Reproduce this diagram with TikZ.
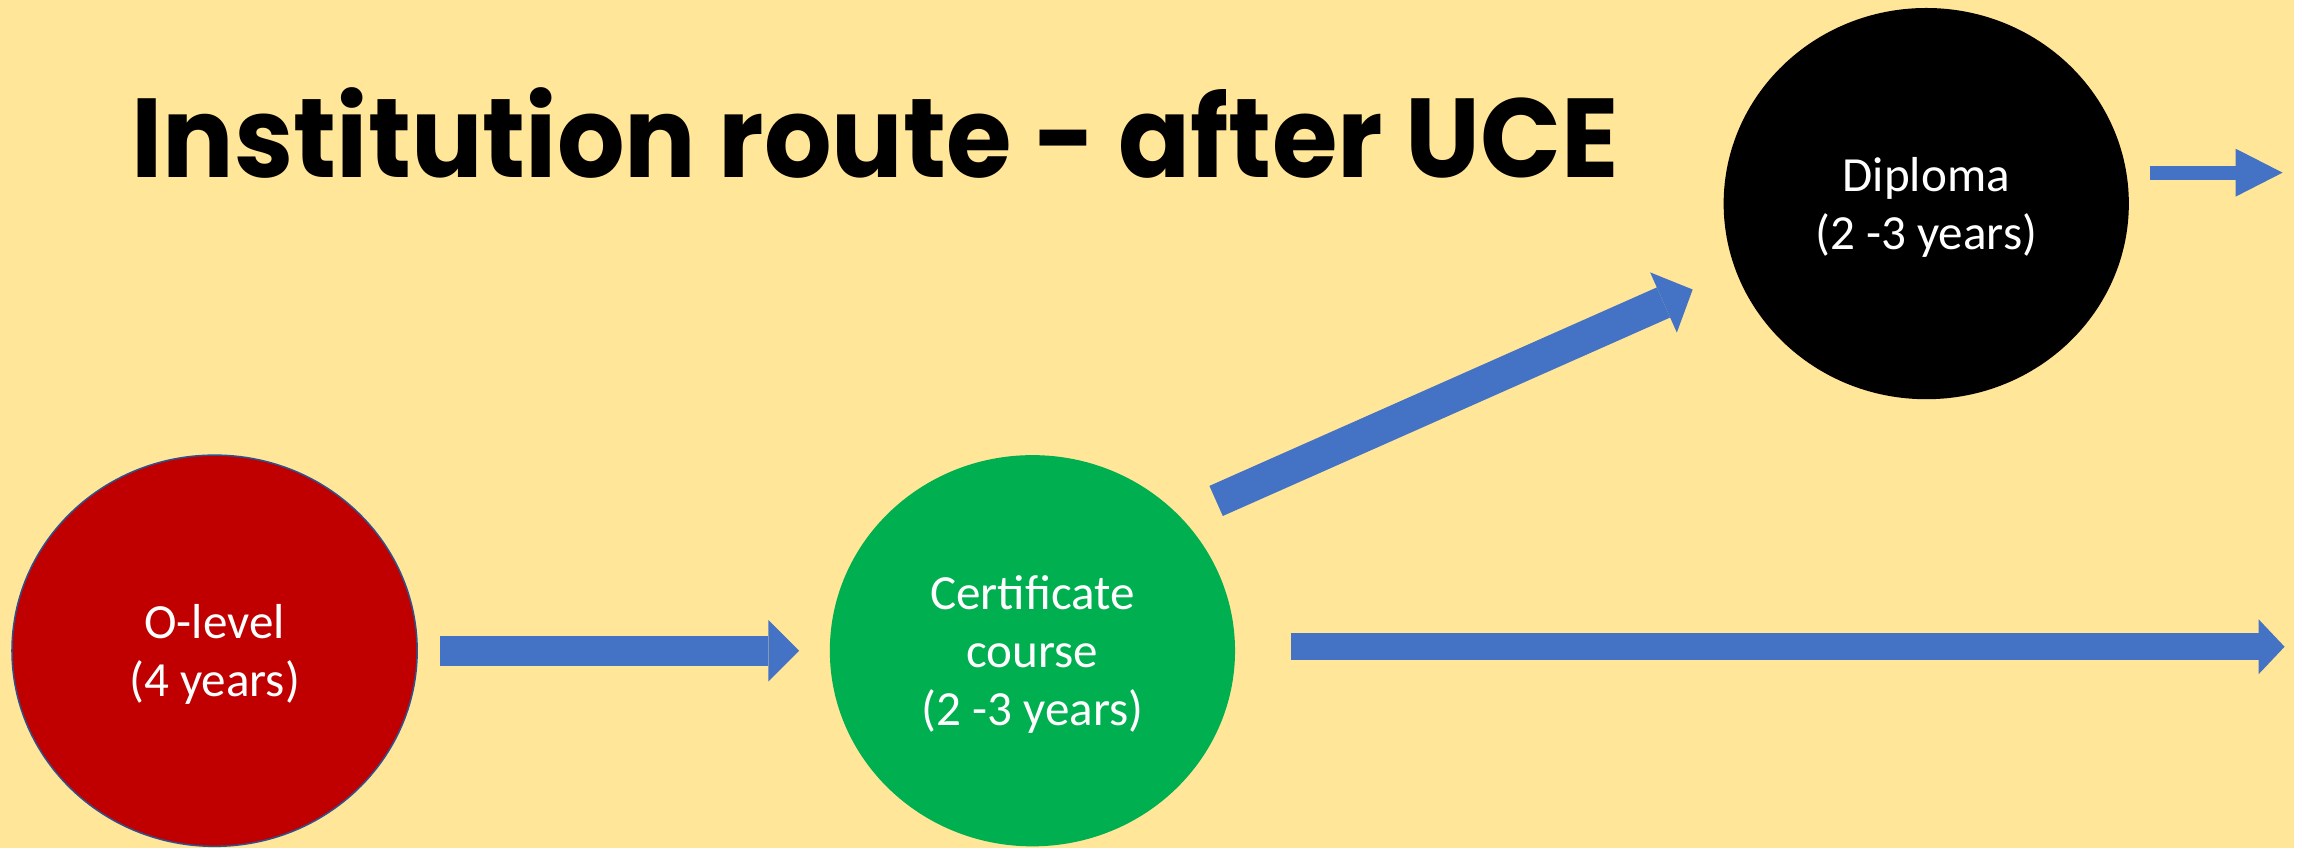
\documentclass[tikz,border=0pt]{standalone}
\usepackage{fontspec}
\setmainfont{Carlito}
\newfontfamily\titlefont{Poppins}
\usepackage{tikz}
\usetikzlibrary{shapes,positioning,arrows.meta}
\definecolor{paper}{HTML}{FFE699}
\definecolor{olevelred}{HTML}{C00000}
\definecolor{certgreen}{HTML}{00B050}
\definecolor{arrowblue}{HTML}{4472C4}
\definecolor{rimblue}{HTML}{2F528F}
\tikzstyle{stage}=[ellipse,minimum width=40.6mm,minimum height=39.2mm,inner sep=0pt,text=white,align=center,text depth=0pt,font=\fontsize{14}{16.6}\selectfont]
\tikzstyle{heading}=[anchor=base west,inner sep=0pt,font=\titlefont\bfseries\fontsize{32}{36}\selectfont]
\tikzset{blockarrow/.style n args={3}{draw=arrowblue,line width=#1,-{Triangle[width=#2,length=#3,line width=0pt]}}}
\def\stagegap{41.2mm}

\begin{document}
\begin{tikzpicture}[x=0.1mm,y=0.1mm]
	\fill[paper] (0,0) rectangle (2298,850);

	% title
	\node[heading] (title) at (131,672) {\scalebox{0.946}[1]{Institution route - after UCE}};

	% stages
	\node[stage,fill=olevelred,draw=rimblue,line width=0.15mm] (olevel) at (215,198) {O-level\\(4 years)};
	\node[stage,fill=certgreen,right=\stagegap of olevel] (cert) {Certificate\\course\\(2 -3 years)};
	\node[stage,fill=black] (diploma) at (1930,646) {Diploma\\(2 -3 years)};

	% free ends
	\coordinate (farright) at (2289,202);
	\coordinate (diplomaout) at (2287,677);

	% Connections
	\draw[blockarrow={3mm}{6.2mm}{3.1mm},shorten <=2.2mm,shorten >=3mm] (olevel) -- (cert);
	\draw[blockarrow={3.3mm}{6.6mm}{3.2mm}] ([shift={(40,11)}]cert.north east) -- ([shift={(-90,53)}]diploma.south west);
	\draw[blockarrow={2.7mm}{5.5mm}{2.6mm},shorten <=5.5mm] (cert.east |- farright) -- (farright);
	\draw[blockarrow={1.4mm}{4.8mm}{4.7mm},shorten <=2mm] (diploma.east |- diplomaout) -- (diplomaout);
\end{tikzpicture}
\end{document}
